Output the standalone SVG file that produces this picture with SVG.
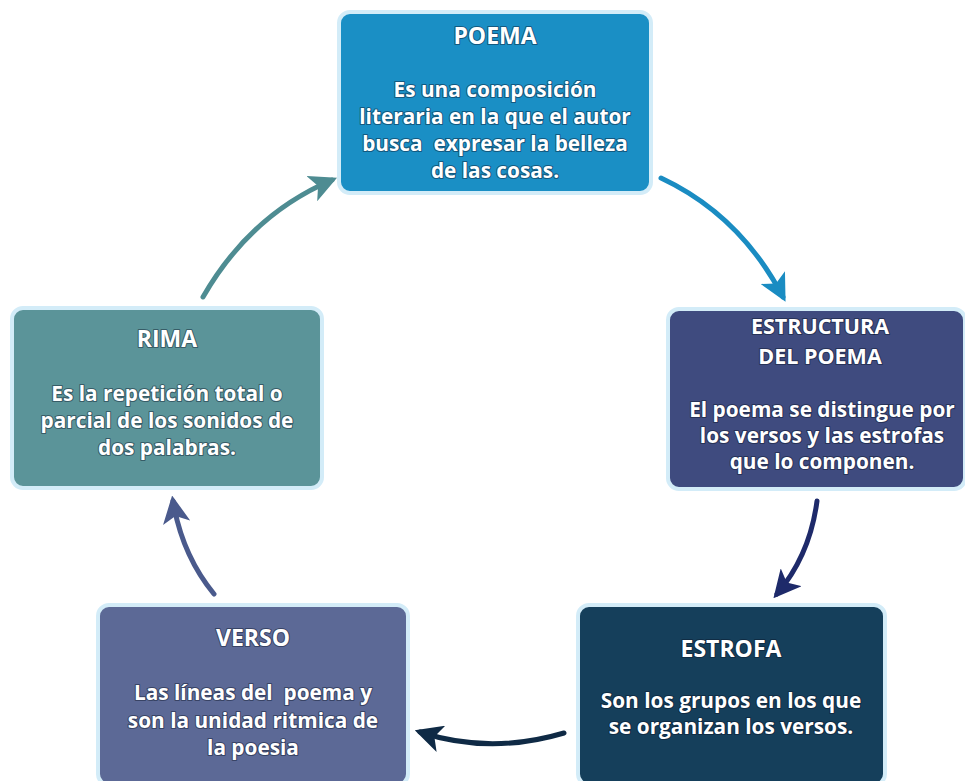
<svg xmlns="http://www.w3.org/2000/svg" width="965" height="781" viewBox="0 0 965 781">
<style>
.box{stroke:#d3ecf8;stroke-width:4}
.t{font-family:"Open Sans","Liberation Sans",sans-serif;font-weight:bold;fill:#ffffff;text-anchor:middle;stroke:rgba(10,20,40,0.45);stroke-width:2.2;paint-order:stroke;stroke-linejoin:round}
.h{font-size:23px}
.h2{font-size:21.5px}
.b{font-size:20.8px}
.c{fill:none;stroke-width:5;stroke-linecap:round}
</style>
<defs>
<marker id="a1" viewBox="0 0 10 10" refX="8" refY="5" markerWidth="5.5" markerHeight="5.5" orient="auto" markerUnits="strokeWidth"><path d="M0,0 L10,5 L0,10 L2.5,5 z" fill="#1a8cc2"/></marker>
<marker id="a2" viewBox="0 0 10 10" refX="8" refY="5" markerWidth="5.5" markerHeight="5.5" orient="auto" markerUnits="strokeWidth"><path d="M0,0 L10,5 L0,10 L2.5,5 z" fill="#1e2a6a"/></marker>
<marker id="a3" viewBox="0 0 10 10" refX="8" refY="5" markerWidth="5.5" markerHeight="5.5" orient="auto" markerUnits="strokeWidth"><path d="M0,0 L10,5 L0,10 L2.5,5 z" fill="#0f2a45"/></marker>
<marker id="a4" viewBox="0 0 10 10" refX="8" refY="5" markerWidth="5.5" markerHeight="5.5" orient="auto" markerUnits="strokeWidth"><path d="M0,0 L10,5 L0,10 L2.5,5 z" fill="#4a5a8c"/></marker>
<marker id="a5" viewBox="0 0 10 10" refX="8" refY="5" markerWidth="5.5" markerHeight="5.5" orient="auto" markerUnits="strokeWidth"><path d="M0,0 L10,5 L0,10 L2.5,5 z" fill="#4e8c92"/></marker>
</defs>
<rect width="965" height="781" fill="#ffffff"/>
<g id="connectors">
<path class="c" d="M661,178 Q740,215 783,297" stroke="#1a8cc2" marker-end="url(#a1)"/>
<path class="c" d="M817,501 Q810,555 777,594" stroke="#1e2a6a" marker-end="url(#a2)"/>
<path class="c" d="M564,733 Q490,755 420,732" stroke="#0f2a45" marker-end="url(#a3)"/>
<path class="c" d="M214,594 Q182,555 173,501" stroke="#4a5a8c" marker-end="url(#a4)"/>
<path class="c" d="M203,297 Q250,215 332,180" stroke="#4e8c92" marker-end="url(#a5)"/>
</g>
<g id="poema">
<rect class="box" x="339" y="12" width="312" height="181" rx="11" fill="#1a8fc5"/>
<text class="t h" x="495" y="44">POEMA</text>
<text class="t b" xml:space="preserve"><tspan x="495" y="97">Es una composición</tspan><tspan x="495" y="124">literaria en la que el autor</tspan><tspan x="495" y="151">busca  expresar la belleza</tspan><tspan x="495" y="178">de las cosas.</tspan></text>
</g>
<g id="estructura">
<rect class="box" x="668" y="309" width="297" height="180" rx="11" fill="#3f4b7f"/>
<text class="t h2"><tspan x="820" y="334">ESTRUCTURA</tspan><tspan x="820" y="364">DEL POEMA</tspan></text>
<text class="t b"><tspan x="822" y="417">El poema se distingue por</tspan><tspan x="822" y="443">los versos y las estrofas</tspan><tspan x="822" y="469">que lo componen.</tspan></text>
</g>
<g id="estrofa">
<rect class="box" x="578" y="605" width="307" height="180" rx="11" fill="#153f5b"/>
<text class="t h" x="731" y="657">ESTROFA</text>
<text class="t b"><tspan x="731" y="708">Son los grupos en los que</tspan><tspan x="731" y="734">se organizan los versos.</tspan></text>
</g>
<g id="verso">
<rect class="box" x="98" y="605" width="310" height="180" rx="11" fill="#5c6996"/>
<text class="t h" x="253" y="646">VERSO</text>
<text class="t b" xml:space="preserve"><tspan x="253" y="700">Las líneas del  poema y</tspan><tspan x="253" y="728">son la unidad ritmica de</tspan><tspan x="253" y="755">la poesia</tspan></text>
</g>
<g id="rima">
<rect class="box" x="12" y="308" width="310" height="180" rx="11" fill="#5b9499"/>
<text class="t h" x="167" y="347">RIMA</text>
<text class="t b"><tspan x="167" y="401">Es la repetición total o</tspan><tspan x="167" y="428">parcial de los sonidos de</tspan><tspan x="167" y="455">dos palabras.</tspan></text>
</g>
</svg>
